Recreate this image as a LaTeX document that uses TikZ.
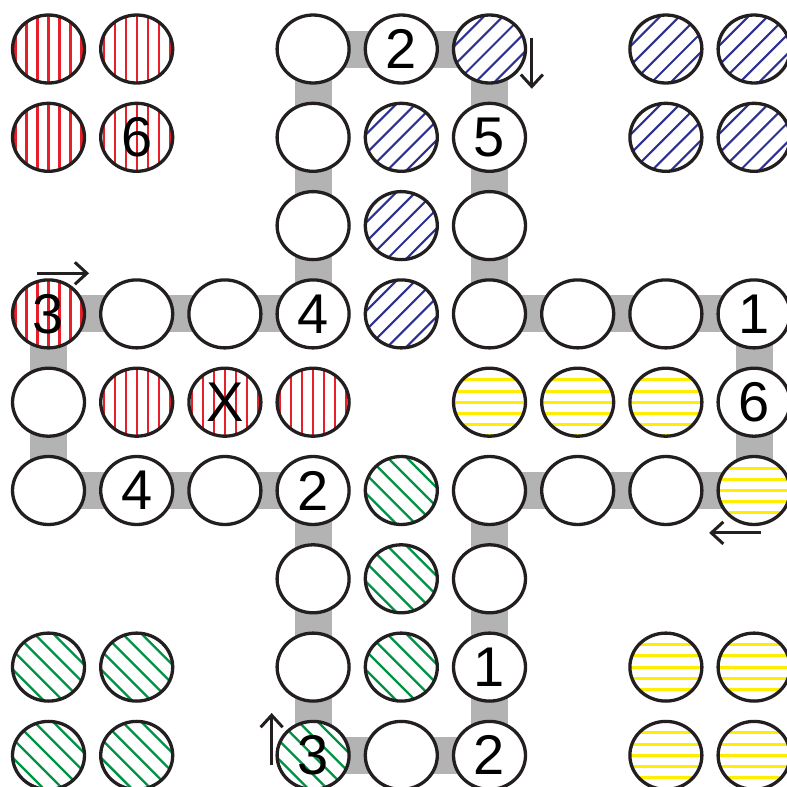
\documentclass[tikz,border=0pt]{standalone}
\usepackage{fontspec}
\setmainfont{Liberation Sans}
\usetikzlibrary{shapes.geometric,arrows.meta,backgrounds,calc}
\definecolor{piecered}{RGB}{232,30,40}
\definecolor{pieceblue}{RGB}{46,49,146}
\definecolor{piecegreen}{RGB}{0,146,69}
\definecolor{pieceyellow}{RGB}{255,238,0}
\definecolor{trackgray}{RGB}{179,179,179}
\definecolor{rimblack}{RGB}{35,31,32}
\begin{document}
\begin{tikzpicture}[x=88.2pt, y=-88.3pt,
  field/.style={ellipse, draw=rimblack, line width=3.3pt, fill=white,
    minimum width=72pt, minimum height=68pt, inner sep=0pt,
    font=\fontsize{56pt}{56pt}\selectfont},
  hatch/.style n args={4}{path picture={
    \foreach \k in {-4,...,4}
      \draw[#2, line width=#3]
        ($(path picture bounding box.center)+(#1:\k*#4)+(#1+90:46pt)$) --
        ($(path picture bounding box.center)+(#1:\k*#4)+(#1-90:46pt)$);}},
  redfield/.style={field, hatch={0}{piecered}{2.3pt}{11pt}},
  bluefield/.style={field, hatch={135}{pieceblue}{2.1pt}{13.5pt}},
  greenfield/.style={field, hatch={45}{piecegreen}{2.3pt}{13.5pt}},
  yellowfield/.style={field, hatch={90}{pieceyellow}{3pt}{11.2pt}},
  track/.style={trackgray, line width=37pt},
  dirarrow/.style={rimblack, line width=3pt, -{Straight Barb[length=12pt,width=22pt]}}]
  \useasboundingbox (-0.55,-0.555) rectangle (8.362,8.358);
  \node[redfield] (f-0-0) at (0,0) {};
  \node[redfield] (f-1-0) at (1,0) {};
  \node[field] (f-3-0) at (3,0) {};
  \node[field] (f-4-0) at (4,0) {2};
  \node[bluefield] (f-5-0) at (5,0) {};
  \node[bluefield] (f-7-0) at (7,0) {};
  \node[bluefield] (f-8-0) at (8,0) {};
  \node[redfield] (f-0-1) at (0,1) {};
  \node[redfield] (f-1-1) at (1,1) {6};
  \node[field] (f-3-1) at (3,1) {};
  \node[bluefield] (f-4-1) at (4,1) {};
  \node[field] (f-5-1) at (5,1) {5};
  \node[bluefield] (f-7-1) at (7,1) {};
  \node[bluefield] (f-8-1) at (8,1) {};
  \node[field] (f-3-2) at (3,2) {};
  \node[bluefield] (f-4-2) at (4,2) {};
  \node[field] (f-5-2) at (5,2) {};
  \node[redfield] (f-0-3) at (0,3) {3};
  \node[field] (f-1-3) at (1,3) {};
  \node[field] (f-2-3) at (2,3) {};
  \node[field] (f-3-3) at (3,3) {4};
  \node[bluefield] (f-4-3) at (4,3) {};
  \node[field] (f-5-3) at (5,3) {};
  \node[field] (f-6-3) at (6,3) {};
  \node[field] (f-7-3) at (7,3) {};
  \node[field] (f-8-3) at (8,3) {1};
  \node[field] (f-0-4) at (0,4) {};
  \node[redfield] (f-1-4) at (1,4) {};
  \node[redfield] (f-2-4) at (2,4) {X};
  \node[redfield] (f-3-4) at (3,4) {};
  \node[yellowfield] (f-5-4) at (5,4) {};
  \node[yellowfield] (f-6-4) at (6,4) {};
  \node[yellowfield] (f-7-4) at (7,4) {};
  \node[field] (f-8-4) at (8,4) {6};
  \node[field] (f-0-5) at (0,5) {};
  \node[field] (f-1-5) at (1,5) {4};
  \node[field] (f-2-5) at (2,5) {};
  \node[field] (f-3-5) at (3,5) {2};
  \node[greenfield] (f-4-5) at (4,5) {};
  \node[field] (f-5-5) at (5,5) {};
  \node[field] (f-6-5) at (6,5) {};
  \node[field] (f-7-5) at (7,5) {};
  \node[yellowfield] (f-8-5) at (8,5) {};
  \node[field] (f-3-6) at (3,6) {};
  \node[greenfield] (f-4-6) at (4,6) {};
  \node[field] (f-5-6) at (5,6) {};
  \node[greenfield] (f-0-7) at (0,7) {};
  \node[greenfield] (f-1-7) at (1,7) {};
  \node[field] (f-3-7) at (3,7) {};
  \node[greenfield] (f-4-7) at (4,7) {};
  \node[field] (f-5-7) at (5,7) {1};
  \node[yellowfield] (f-7-7) at (7,7) {};
  \node[yellowfield] (f-8-7) at (8,7) {};
  \node[greenfield] (f-0-8) at (0,8) {};
  \node[greenfield] (f-1-8) at (1,8) {};
  \node[greenfield] (f-3-8) at (3,8) {3};
  \node[field] (f-4-8) at (4,8) {};
  \node[field] (f-5-8) at (5,8) {2};
  \node[yellowfield] (f-7-8) at (7,8) {};
  \node[yellowfield] (f-8-8) at (8,8) {};
  \begin{scope}[on background layer]
    \draw[track] (f-0-3.center) -- (f-1-3.center) -- (f-2-3.center) -- (f-3-3.center)
      -- (f-3-2.center) -- (f-3-1.center) -- (f-3-0.center) -- (f-4-0.center)
      -- (f-5-0.center) -- (f-5-1.center) -- (f-5-2.center) -- (f-5-3.center)
      -- (f-6-3.center) -- (f-7-3.center) -- (f-8-3.center) -- (f-8-4.center)
      -- (f-8-5.center) -- (f-7-5.center) -- (f-6-5.center) -- (f-5-5.center)
      -- (f-5-6.center) -- (f-5-7.center) -- (f-5-8.center) -- (f-4-8.center)
      -- (f-3-8.center) -- (f-3-7.center) -- (f-3-6.center) -- (f-3-5.center)
      -- (f-2-5.center) -- (f-1-5.center) -- (f-0-5.center) -- (f-0-4.center) -- cycle;
  \end{scope}
  \draw[dirarrow] ([shift={(0.48,-0.13)}]f-5-0.center) -- ([shift={(0.48,0.45)}]f-5-0.center);
  \draw[dirarrow] ([shift={(-0.13,-0.46)}]f-0-3.center) -- ([shift={(0.46,-0.46)}]f-0-3.center);
  \draw[dirarrow] ([shift={(0.08,0.48)}]f-8-5.center) -- ([shift={(-0.51,0.48)}]f-8-5.center);
  \draw[dirarrow] ([shift={(-0.47,0.11)}]f-3-8.center) -- ([shift={(-0.47,-0.48)}]f-3-8.center);
\end{tikzpicture}
\end{document}
